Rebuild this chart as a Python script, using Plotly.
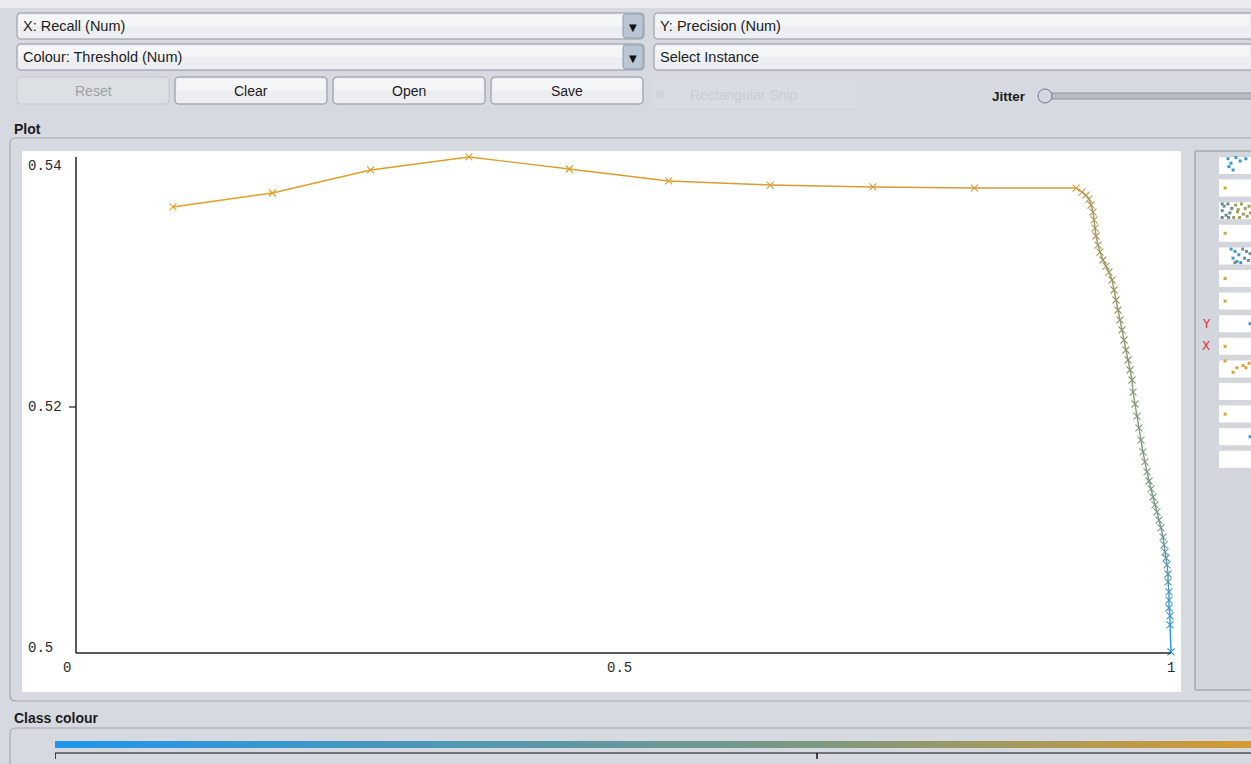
import plotly.graph_objects as go
from plotly.colors import sample_colorscale

W, H = 1251, 764

# ---------------- data ----------------
RECALL = [0.096, 0.186, 0.275, 0.364, 0.455, 0.545, 0.637, 0.730, 0.822, 0.914,
          0.9194, 0.9230, 0.9257, 0.9275, 0.9293, 0.9303, 0.9312, 0.9321, 0.9339, 0.9357,
          0.9384, 0.9411, 0.9438, 0.9466, 0.9484, 0.9502, 0.9520, 0.9538, 0.9556, 0.9574,
          0.9592, 0.9611, 0.9629, 0.9647, 0.9656, 0.9674, 0.9692, 0.9710, 0.9728, 0.9746,
          0.9764, 0.9783, 0.9801, 0.9819, 0.9837, 0.9855, 0.9873, 0.9891, 0.9909, 0.9928,
          0.9937, 0.9946, 0.9955, 0.9964, 0.9973, 0.9973, 0.9982, 0.9982, 0.9982, 0.9991,
          0.9991, 1.0000]
PRECISION = [0.53660, 0.53776, 0.53967, 0.54075, 0.53975, 0.53876, 0.53842, 0.53826, 0.53817, 0.53817,
             0.53784, 0.53759, 0.53726, 0.53676, 0.53618, 0.53552, 0.53485, 0.53419, 0.53344, 0.53286,
             0.53220, 0.53170, 0.53120, 0.53054, 0.52971, 0.52888, 0.52805, 0.52722, 0.52639, 0.52556,
             0.52473, 0.52390, 0.52307, 0.52224, 0.52124, 0.52025, 0.51925, 0.51826, 0.51726, 0.51627,
             0.51544, 0.51461, 0.51386, 0.51320, 0.51253, 0.51187, 0.51129, 0.51062, 0.50996, 0.50921,
             0.50855, 0.50797, 0.50747, 0.50689, 0.50614, 0.50548, 0.50465, 0.50398, 0.50332, 0.50266,
             0.50191, 0.49967]
THRESHOLD = [0.88, 0.86, 0.84, 0.82, 0.80, 0.78, 0.76, 0.74, 0.72, 0.70,
             0.62, 0.61, 0.60, 0.59, 0.585, 0.58, 0.575, 0.57, 0.565, 0.56,
             0.555, 0.55, 0.545, 0.54, 0.535, 0.53, 0.525, 0.52, 0.515, 0.51,
             0.505, 0.50, 0.495, 0.49, 0.485, 0.48, 0.475, 0.47, 0.465, 0.46,
             0.455, 0.45, 0.445, 0.44, 0.435, 0.43, 0.42, 0.41, 0.40, 0.38,
             0.36, 0.34, 0.32, 0.30, 0.27, 0.24, 0.20, 0.17, 0.14, 0.11,
             0.08, 0.0]

X_TICKS = [0, 0.5, 1]
X_TICK_TEXT = ["0", "0.5", "1"]
Y_TICKS = [0.5, 0.52, 0.54]
Y_TICK_TEXT = ["0.5", "0.52", "0.54"]
COLOUR_TICKS = [0.0, 0.45, 0.9]

# attribute strips on the right (row index, position in row, offset, colour)
STRIP_ROW = [0, 0, 0, 0, 0, 0, 0, 1,
             2, 2, 2, 2, 2, 2, 2, 2, 2, 2, 2, 2, 2, 2, 2, 2, 2, 2, 2, 2,
             3,
             4, 4, 4, 4, 4, 4, 4, 4, 4, 4, 4, 4,
             5, 6, 7, 8, 9, 9, 9, 9, 9, 9, 11, 12]
STRIP_POS = [0.28, 0.375, 0.53, 0.66, 0.44, 0.31, 0.84, 0.19,
             0.10, 0.10, 0.10, 0.16, 0.22, 0.28, 0.34, 0.40, 0.46, 0.52, 0.58, 0.64, 0.70, 0.76, 0.82, 0.88, 0.94, 0.98, 0.30, 0.60,
             0.19,
             0.38, 0.44, 0.50, 0.56, 0.62, 0.68, 0.74, 0.80, 0.86, 0.92, 0.50, 0.97,
             0.19, 0.19, 0.97, 0.19, 0.19, 0.44, 0.56, 0.75, 0.84, 0.94, 0.19, 0.97]
STRIP_OFF = [-0.3, -0.1, -0.35, -0.2, 0.2, 0.05, -0.3, 0.0,
             -0.3, 0.0, 0.3, -0.2, 0.2, -0.3, 0.1, -0.1, 0.3, -0.25, 0.05, 0.3, -0.3, 0.15, -0.1, 0.25, -0.2, 0.1, 0.3, -0.05,
             0.0,
             -0.3, 0.1, -0.2, 0.25, -0.05, 0.3, -0.3, 0.1, -0.2, 0.2, 0.3, -0.1,
             0.0, 0.0, 0.0, 0.0, -0.35, 0.15, -0.05, -0.15, -0.05, -0.25, 0.0, 0.0]
STRIP_COL = ["#3d97cf"] * 7 + ["#e0a030"] + \
            ["#6b8e8c"] * 8 + ["#a59c5c"] * 10 + ["#6b8e8c", "#a59c5c"] + \
            ["#e0a030"] + \
            ["#3d97cf"] * 6 + ["#6a8f98"] * 6 + \
            ["#e0a030", "#e0a030", "#3d97cf", "#e0a030"] + ["#e0a030"] * 6 + ["#e0a030", "#3d97cf"]

CS = [[0.0, "rgb(30,150,235)"], [0.5, "rgb(125,152,128)"],
      [0.78, "rgb(212,154,52)"], [1.0, "rgb(232,160,30)"]]
TMAX = 0.9

BG = "#d6d9df"


def X(p):
    return p / W


def Y(p):
    return 1 - p / H


shapes = []
annotations = []


def rect(x0, y0, x1, y1, fill=None, line=None, lw=1, layer="below"):
    shapes.append(dict(type="rect", xref="paper", yref="paper",
                       x0=X(x0), x1=X(x1), y0=Y(y1), y1=Y(y0),
                       fillcolor=fill or "rgba(0,0,0,0)",
                       line=dict(color=line or "rgba(0,0,0,0)", width=lw if line else 0),
                       layer=layer))


def rrect(x0, y0, x1, y1, r, fill=None, line=None, lw=1, layer="below"):
    f = lambda v: f"{v:.5f}"
    p = (f"M{f(X(x0 + r))},{f(Y(y0))} L{f(X(x1 - r))},{f(Y(y0))} "
         f"Q{f(X(x1))},{f(Y(y0))} {f(X(x1))},{f(Y(y0 + r))} "
         f"L{f(X(x1))},{f(Y(y1 - r))} Q{f(X(x1))},{f(Y(y1))} {f(X(x1 - r))},{f(Y(y1))} "
         f"L{f(X(x0 + r))},{f(Y(y1))} Q{f(X(x0))},{f(Y(y1))} {f(X(x0))},{f(Y(y1 - r))} "
         f"L{f(X(x0))},{f(Y(y0 + r))} Q{f(X(x0))},{f(Y(y0))} {f(X(x0 + r))},{f(Y(y0))} Z")
    shapes.append(dict(type="path", xref="paper", yref="paper", path=p,
                       fillcolor=fill or "rgba(0,0,0,0)",
                       line=dict(color=line or "rgba(0,0,0,0)", width=lw if line else 0),
                       layer=layer))


def line(x0, y0, x1, y1, color="#222", lw=1, layer="above"):
    shapes.append(dict(type="line", xref="paper", yref="paper",
                       x0=X(x0), x1=X(x1), y0=Y(y0), y1=Y(y1),
                       line=dict(color=color, width=lw), layer=layer))


def text(x, y, s, size=14, color="#1c1c1c", anchor="left", bold=False,
         family="Liberation Sans"):
    annotations.append(dict(xref="paper", yref="paper", x=X(x), y=Y(y),
                            text=f"<b>{s}</b>" if bold else s, showarrow=False,
                            xanchor=anchor, yanchor="middle",
                            font=dict(family=family, size=size, color=color)))


# ---------------- GUI chrome ----------------
rect(0, 0, W, 8, fill="#eaecef")

# combo boxes
for (x0, x1, y0, y1) in [(17, 644, 13, 39), (17, 644, 44, 70), (654, 1270, 13, 39), (654, 1270, 44, 70)]:
    rrect(x0, y0, x1, y1, 4, fill="#eceef1", line="#8f959e", lw=1)
    rect(x0 + 2, y0 + 2, min(x1, W) - 2, (y0 + y1) / 2, fill="#f5f6f8")
for (y0, y1) in [(13, 39), (44, 70)]:
    rrect(623, y0 + 1, 643, y1 - 1, 3, fill="#b9c6d5", line="#8f9bab", lw=1)
    text(633, (y0 + y1) / 2 + 1, "▼", size=10, color="#111", anchor="center", family="DejaVu Sans")

text(21, 26, "X: Recall (Num)", size=14.5)
text(21, 57, "Colour: Threshold (Num)", size=14.5)
text(658, 26, "Y: Precision (Num)", size=14.5)
text(658, 57, "Select Instance", size=14.5)

# buttons
BUTTONS = [("Reset", 17, 169, False), ("Clear", 175, 327, True),
           ("Open", 333, 485, True), ("Save", 491, 643, True)]
for (lab, x0, x1, enabled) in BUTTONS:
    if enabled:
        rrect(x0, 77, x1, 104, 4, fill="#eceef1", line="#8a9099", lw=1)
        rect(x0 + 2, 79, x1 - 2, 90, fill="#f5f6f8")
        text((x0 + x1) / 2, 91, lab, size=14, color="#1c1c1c", anchor="center")
    else:
        rrect(x0, 77, x1, 104, 4, fill="#dcdfe4", line="#c4c8ce", lw=1)
        text((x0 + x1) / 2, 91, lab, size=14, color="#9da1a8", anchor="center")

# faint rectangular snip
rect(652, 80, 856, 107, fill="#d9dce2")
shapes.append(dict(type="circle", xref="paper", yref="paper",
                   x0=X(656), x1=X(664), y0=Y(99), y1=Y(91),
                   fillcolor="#d2d6dc", line=dict(color="#cfd3d9", width=1), layer="below"))
text(688, 95, "Rectangular Snip", size=14, color="#c9cdd3")

# jitter slider
text(1028, 97, "Jitter", size=13.5, color="#1c1c1c", anchor="right", bold=True)
rrect(1048, 93, 1270, 99, 3, fill="#b7bdc6", line="#8d949d", lw=1)
shapes.append(dict(type="circle", xref="paper", yref="paper",
                   x0=X(1038), x1=X(1052), y0=Y(103), y1=Y(89),
                   fillcolor="#cfd8e3", line=dict(color="#6f7d8c", width=1), layer="below"))

# plot panel
text(12, 129, "Plot", size=14, bold=True)
rrect(10, 138, 1270, 701, 6, fill=BG, line="#a3a8b0", lw=1.2)
rect(22, 151, 1181, 692, fill="#ffffff")

# right attribute panel
rect(1195, 151, 1270, 690, fill="#d3d6dc", line="#8f959d", lw=1)
for i in range(14):
    y0 = 157 + 22.6 * i
    rect(1219, y0, 1260, y0 + 17, fill="#ffffff")

# class colour panel
text(12, 718, "Class colour", size=14, bold=True)
rrect(10, 728, 1270, 800, 6, fill=BG, line="#a3a8b0", lw=1.2)
line(55, 753, 1260, 753, color="#111", lw=1.2)

# ---------------- main axes (drawn as in Weka) ----------------
line(76, 157, 76, 653, color="#222", lw=1.5)
line(76, 653, 1171, 653, color="#222", lw=1.5)
shapes.append(dict(type="line", xref="paper", yref="y", x0=X(69), x1=X(76),
                   y0=0.52, y1=0.52, line=dict(color="#222", width=1.2), layer="above"))

for v, t in zip(Y_TICKS, Y_TICK_TEXT):
    annotations.append(dict(xref="paper", yref="y", x=X(26), y=v, text=t, showarrow=False,
                            xanchor="left", yanchor="middle",
                            font=dict(family="Liberation Mono", size=14, color="#2a2a2a")))
for v, t in zip(X_TICKS, X_TICK_TEXT):
    annotations.append(dict(xref="x", yref="paper", x=v, y=Y(668), text=t, showarrow=False,
                            xanchor="center", yanchor="middle",
                            font=dict(family="Liberation Mono", size=14, color="#2a2a2a")))

# colour bar ticks
for v in COLOUR_TICKS[:2]:
    shapes.append(dict(type="line", xref="x3", yref="paper", x0=v, x1=v,
                       y0=Y(753), y1=Y(759), line=dict(color="#111", width=1.5), layer="above"))

# ---------------- traces ----------------
fig = go.Figure()

seg_cols = sample_colorscale(CS, [t / TMAX for t in THRESHOLD])
for i in range(len(RECALL) - 1):
    fig.add_trace(go.Scatter(x=RECALL[i:i + 2], y=PRECISION[i:i + 2], mode="lines",
                             line=dict(color=seg_cols[i + 1], width=1.4),
                             hoverinfo="skip", showlegend=False, cliponaxis=False))

fig.add_trace(go.Scatter(
    x=RECALL, y=PRECISION, mode="markers", showlegend=False, cliponaxis=False,
    marker=dict(symbol="x-thin", size=7, color=THRESHOLD, colorscale=CS, cmin=0, cmax=TMAX,
                line=dict(width=1.1, color=THRESHOLD, colorscale=CS, cmin=0, cmax=TMAX)),
))

fig.add_trace(go.Scatter(
    x=STRIP_POS, y=[r + o for r, o in zip(STRIP_ROW, STRIP_OFF)], mode="markers",
    xaxis="x2", yaxis="y2", showlegend=False, hoverinfo="skip", cliponaxis=False,
    marker=dict(symbol="square", size=3, color=STRIP_COL, line=dict(width=0)),
))
for r, lab in [(7, "Y"), (8, "X")]:
    annotations.append(dict(xref="paper", yref="y2", x=X(1206), y=r, text=lab, showarrow=False,
                            xanchor="center", yanchor="middle",
                            font=dict(family="DejaVu Sans", size=12, color="#e0303a")))

fig.add_trace(go.Heatmap(
    x=COLOUR_TICKS, y=[0.5], z=[COLOUR_TICKS], colorscale=CS, zmin=0, zmax=TMAX,
    zsmooth="best", showscale=False, xaxis="x3", yaxis="y3", hoverinfo="skip",
))

fig.update_layout(
    width=W, height=H, margin=dict(l=0, r=0, t=0, b=0),
    paper_bgcolor=BG, plot_bgcolor="rgba(0,0,0,0)",
    xaxis=dict(domain=[X(60), X(1178)], range=[(60 - 67) / 1104, (1178 - 67) / 1104],
               visible=False, fixedrange=True),
    yaxis=dict(domain=[Y(660), Y(150)], range=[0.54 - (660 - 166) / 12050, 0.54 + (166 - 150) / 12050],
               visible=False, fixedrange=True),
    xaxis2=dict(domain=[X(1219), 1], range=[0, 1], visible=False, fixedrange=True),
    yaxis2=dict(domain=[Y(475), Y(150)], range=[(475 - 165.5) / 22.6, (150 - 165.5) / 22.6],
                visible=False, fixedrange=True),
    xaxis3=dict(domain=[X(55), 1], range=[0, 0.45 * (1251 - 55) / 762], visible=False, fixedrange=True),
    yaxis3=dict(domain=[Y(748), Y(741)], range=[0, 1], visible=False, fixedrange=True),
    shapes=shapes, annotations=annotations, showlegend=False, hovermode=False,
)

fig.write_html("out.html", config={"displayModeBar": False},
               post_script="document.body.style.margin='0';document.body.style.overflow='hidden';")
